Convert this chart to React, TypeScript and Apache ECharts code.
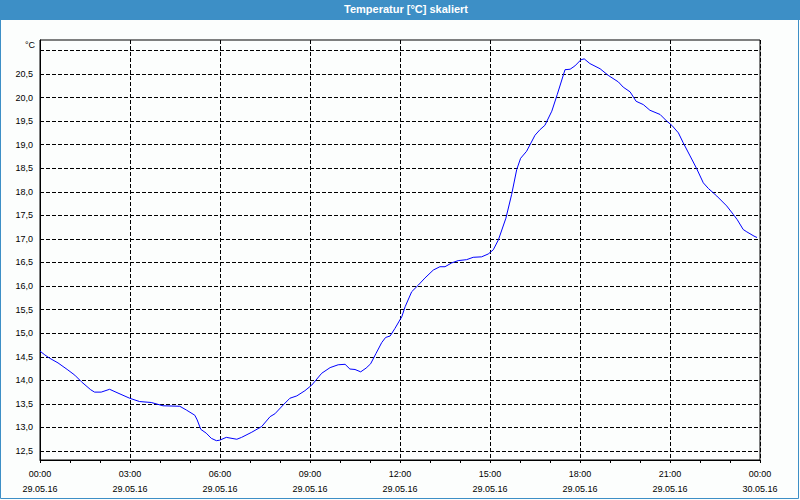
import React, { useEffect, useRef } from "react";
import * as echarts from "echarts";

// time in hours since 29.05.16 00:00
const hours = [
  0.0, 0.16, 0.32, 0.6, 0.93, 1.16, 1.38, 1.69, 1.82, 2.04, 2.32, 2.6, 2.99, 3.32, 3.71, 4.1, 4.66, 4.88,
  5.16, 5.24, 5.36, 5.54, 5.71, 5.88, 5.99, 6.21, 6.56, 6.72, 7.06, 7.39, 7.67, 7.83, 8.11, 8.33, 8.56,
  8.83, 9.06, 9.39, 9.67, 9.94, 10.17, 10.33, 10.5, 10.69, 10.87, 11.02, 11.2, 11.39, 11.52, 11.67, 11.83,
  12.06, 12.17, 12.39, 12.61, 12.83, 13.11, 13.33, 13.5, 13.72, 13.94, 14.22, 14.44, 14.72, 14.94, 15.11,
  15.28, 15.53, 15.72, 15.89, 16.02, 16.22, 16.5, 16.67, 16.83, 17.06, 17.24, 17.5, 17.67, 17.83, 18.03,
  18.14, 18.33, 18.67, 18.94, 19.28, 19.44, 19.67, 19.87, 20.11, 20.33, 20.67, 20.89, 21.06, 21.28, 21.44,
  21.67, 21.89, 22.11, 22.28, 22.56, 22.89, 23.11, 23.24, 23.44, 23.56, 23.8, 23.9,
];
const temps = [
  14.62, 14.54, 14.47, 14.37, 14.22, 14.11, 13.97, 13.8, 13.75, 13.75, 13.81, 13.73, 13.62, 13.55, 13.53,
  13.46, 13.45, 13.37, 13.26, 13.16, 12.96, 12.88, 12.77, 12.72, 12.73, 12.79, 12.75, 12.79, 12.9, 13.02,
  13.23, 13.29, 13.48, 13.62, 13.67, 13.78, 13.9, 14.15, 14.27, 14.33, 14.34, 14.24, 14.23, 14.18, 14.26,
  14.35, 14.57, 14.8, 14.91, 14.94, 15.1, 15.35, 15.56, 15.88, 16.02, 16.17, 16.34, 16.41, 16.41, 16.49,
  16.54, 16.56, 16.61, 16.62, 16.68, 16.77, 16.98, 17.44, 17.94, 18.47, 18.71, 18.86, 19.2, 19.32, 19.41,
  19.71, 20.06, 20.59, 20.6, 20.67, 20.8, 20.82, 20.72, 20.61, 20.47, 20.33, 20.22, 20.12, 19.92, 19.85,
  19.73, 19.64, 19.5, 19.41, 19.25, 19.04, 18.76, 18.49, 18.19, 18.07, 17.91, 17.7, 17.52, 17.41, 17.2,
  17.15, 17.06, 17.03,
];

const xTickHours = [0, 3, 6, 9, 12, 15, 18, 21, 24];
const xTimeLabels = ["00:00", "03:00", "06:00", "09:00", "12:00", "15:00", "18:00", "21:00", "00:00"];
const xDateLabels = ["29.05.16", "29.05.16", "29.05.16", "29.05.16", "29.05.16", "29.05.16", "29.05.16", "29.05.16", "30.05.16"];
const yGridValues = [12.5, 13, 13.5, 14, 14.5, 15, 15.5, 16, 16.5, 17, 17.5, 18, 18.5, 19, 19.5, 20, 20.5, 21];
const yLabelValues = [12.5, 13, 13.5, 14, 14.5, 15, 15.5, 16, 16.5, 17, 17.5, 18, 18.5, 19, 19.5, 20, 20.5];

const TITLE = "Temperatur [°C] skaliert";
const UNIT = "°C";

export default function App() {
  const ref = useRef<HTMLDivElement>(null);
  useEffect(() => {
    if (!ref.current) return;
    const chart = echarts.init(ref.current, undefined, { renderer: "svg" });
    const data = hours.map((h, i) => [h, temps[i]]);
    const font = "Liberation Sans, Arial, sans-serif";
    chart.setOption({
      animation: false,
      backgroundColor: "#fcfefd",
      grid: {
        left: 40,
        top: 40,
        width: 720,
        height: 420,
        show: true,
        borderColor: "#000",
        borderWidth: 1,
        backgroundColor: "transparent",
      },
      xAxis: {
        type: "value",
        min: 0,
        max: 24,
        interval: 3,
        axisLine: { show: true, lineStyle: { color: "#000", width: 1 } },
        axisTick: { show: true, length: 3, lineStyle: { color: "#000" } },
        minorTick: { show: true, splitNumber: 3, length: 3, lineStyle: { color: "#000" } },
        splitLine: { show: true, lineStyle: { color: "#000", type: [4, 2], width: 1 } },
        axisLabel: {
          margin: 6,
          color: "#000",
          fontFamily: font,
          fontSize: 9,
          lineHeight: 15,
          formatter: (v: number) => {
            const i = xTickHours.indexOf(Math.round(v));
            return i >= 0 ? xTimeLabels[i] + "\n" + xDateLabels[i] : "";
          },
        },
      },
      yAxis: {
        type: "value",
        min: 12.31,
        max: 21.22,
        axisLine: { show: true, lineStyle: { color: "#000", width: 1 } },
        axisTick: { show: false, customValues: yGridValues },
        splitLine: { show: true, lineStyle: { color: "#000", type: [4, 2], width: 1 } },
        axisLabel: {
          customValues: yLabelValues,
          margin: 7,
          color: "#000",
          fontFamily: font,
          fontSize: 9,
          formatter: (v: number) => v.toFixed(1).replace(".", ","),
        },
      },
      graphic: [
        { type: "rect", shape: { x: 0, y: 0, width: 800, height: 20 }, style: { fill: "#3d8fc6" }, silent: true },
        {
          type: "rect",
          shape: { x: 0.5, y: 0.5, width: 798, height: 498 },
          style: { fill: "none", stroke: "#3d8fc6", lineWidth: 1 },
          silent: true,
        },
        {
          type: "text",
          x: 406,
          y: 9,
          style: {
            text: TITLE,
            fill: "#fff",
            font: "bold 11px " + font,
            textAlign: "center",
            textVerticalAlign: "middle",
          },
          silent: true,
        },
        {
          type: "text",
          x: 35,
          y: 45,
          style: {
            text: UNIT,
            fill: "#000",
            font: "9px " + font,
            textAlign: "right",
            textVerticalAlign: "middle",
          },
          silent: true,
        },
      ],
      series: [
        {
          type: "line",
          data,
          showSymbol: false,
          symbol: "none",
          lineStyle: { color: "#0000ff", width: 1 },
          clip: true,
        },
      ],
    });
    return () => chart.dispose();
  }, []);
  return (
    <div
      ref={ref}
      style={{ position: "fixed", left: 0, top: 0, width: 800, height: 500 }}
    />
  );
}
